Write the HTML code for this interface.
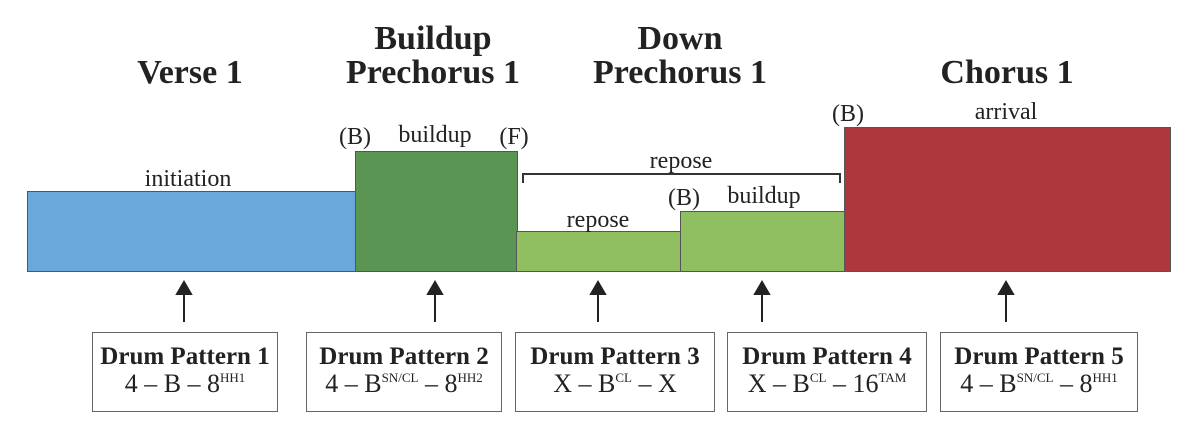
<!DOCTYPE html>
<html><head><style>
body{margin:0;width:1200px;height:438px;background:#fff;position:relative;overflow:hidden;font-family:"Liberation Serif",serif;color:#222}
.t{position:absolute;font-weight:bold;font-size:34px;text-align:center;line-height:34px;transform:translateX(-50%);white-space:nowrap}
.l{position:absolute;font-size:24px;transform:translateX(-50%);white-space:nowrap;line-height:22px}
.r{position:absolute;box-sizing:border-box;border:1.5px solid #555}
.b{position:absolute;box-sizing:border-box;border:1.5px solid #666;top:332px;height:80px;text-align:center;background:#fff}
.b .h{font-weight:bold;font-size:25px;margin-top:10px;line-height:27px}
.b .f{font-size:26px;line-height:28px}
sup{font-size:13px;vertical-align:10px;line-height:0}
</style></head><body>
<div class="t" style="left:190px;top:56px">Verse 1</div>
<div class="t" style="left:433px;top:22px">Buildup<br>Prechorus 1</div>
<div class="t" style="left:680px;top:22px">Down<br>Prechorus 1</div>
<div class="t" style="left:1007px;top:56px">Chorus 1</div>

<div class="r" style="left:27px;top:191px;width:330px;height:81px;background:#6aa8dc"></div>
<div class="r" style="left:355px;top:151px;width:163px;height:121px;background:#5a9553"></div>
<div class="r" style="left:516px;top:231px;width:165px;height:41px;background:#8fbf60"></div>
<div class="r" style="left:680px;top:211px;width:165px;height:61px;background:#8fbf60"></div>
<div class="r" style="left:844px;top:127px;width:327px;height:145px;background:#ad373c"></div>

<svg style="position:absolute;left:0;top:0" width="1200" height="438">
<path d="M523 183 V174 H840 V183" fill="none" stroke="#333" stroke-width="2"/>
<g stroke="#222" stroke-width="2" fill="#222">
<line x1="184" y1="292" x2="184" y2="322"/><polygon points="177,294 191,294 184,282"/>
<line x1="435" y1="292" x2="435" y2="322"/><polygon points="428,294 442,294 435,282"/>
<line x1="598" y1="292" x2="598" y2="322"/><polygon points="591,294 605,294 598,282"/>
<line x1="762" y1="292" x2="762" y2="322"/><polygon points="755,294 769,294 762,282"/>
<line x1="1006" y1="292" x2="1006" y2="322"/><polygon points="999,294 1013,294 1006,282"/>
</g></svg>

<div class="l" style="left:188px;top:168px">initiation</div>
<div class="l" style="left:355px;top:126px">(B)</div>
<div class="l" style="left:435px;top:124px">buildup</div>
<div class="l" style="left:514px;top:126px">(F)</div>
<div class="l" style="left:681px;top:150px">repose</div>
<div class="l" style="left:598px;top:209px">repose</div>
<div class="l" style="left:684px;top:187px">(B)</div>
<div class="l" style="left:764px;top:185px">buildup</div>
<div class="l" style="left:848px;top:103px">(B)</div>
<div class="l" style="left:1006px;top:101px">arrival</div>

<div class="b" style="left:92px;width:186px"><div class="h">Drum Pattern 1</div><div class="f">4 – B – 8<sup>HH1</sup></div></div>
<div class="b" style="left:306px;width:196px"><div class="h">Drum Pattern 2</div><div class="f">4 – B<sup>SN/CL</sup> – 8<sup>HH2</sup></div></div>
<div class="b" style="left:515px;width:200px"><div class="h">Drum Pattern 3</div><div class="f">X – B<sup>CL</sup> – X</div></div>
<div class="b" style="left:727px;width:200px"><div class="h">Drum Pattern 4</div><div class="f">X – B<sup>CL</sup> – 16<sup>TAM</sup></div></div>
<div class="b" style="left:940px;width:198px"><div class="h">Drum Pattern 5</div><div class="f">4 – B<sup>SN/CL</sup> – 8<sup>HH1</sup></div></div>
</body></html>
